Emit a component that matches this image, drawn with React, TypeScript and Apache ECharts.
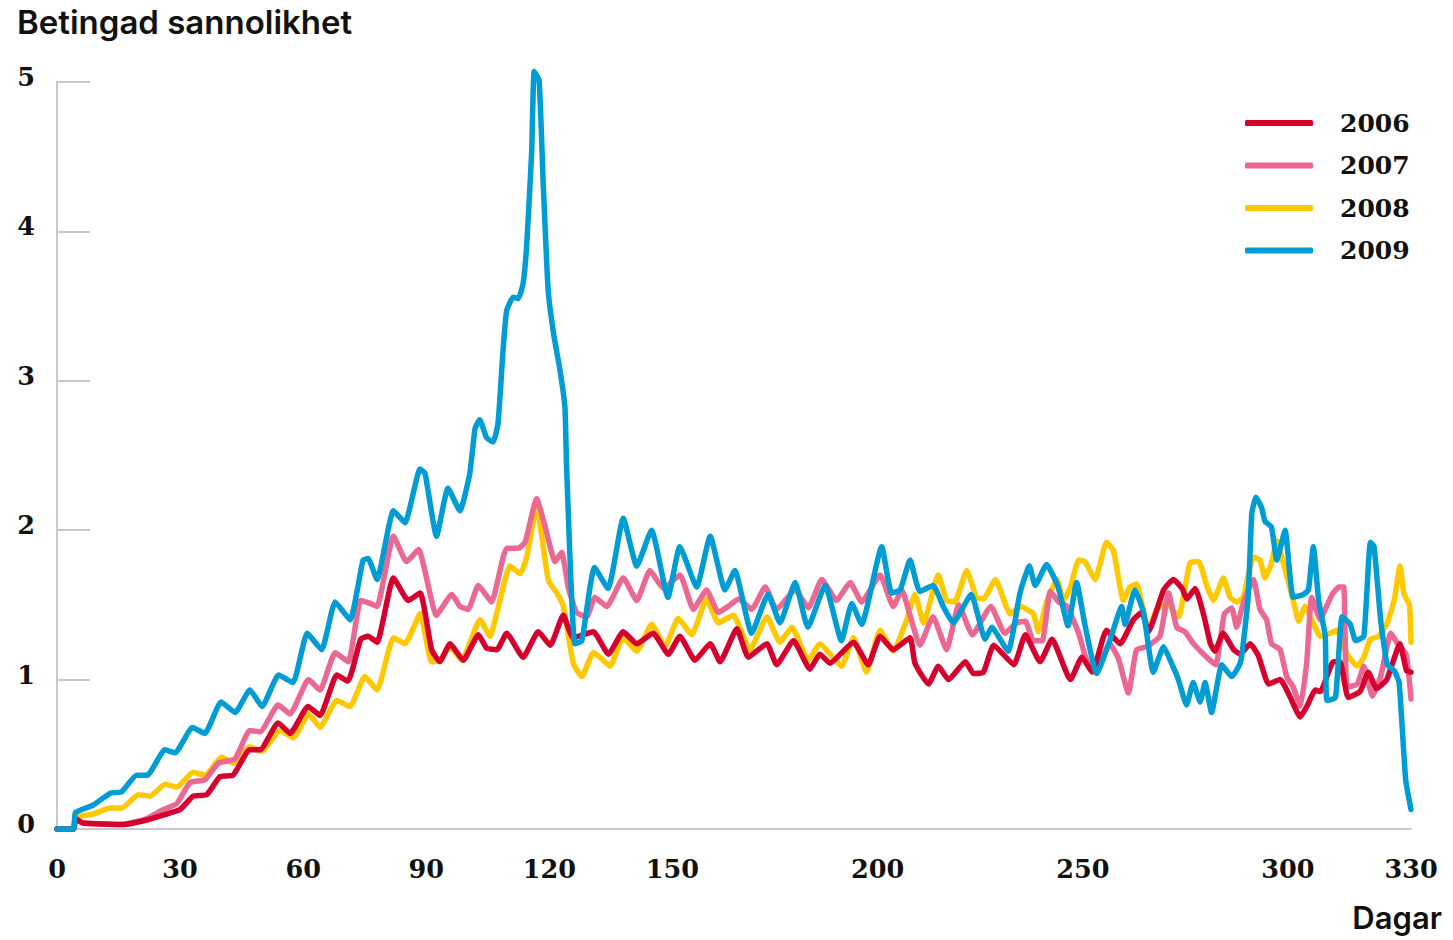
import React, { useEffect, useRef } from "react";
import * as echarts from "echarts";

const seriesNames = ["2006", "2007", "2008", "2009"];
const seriesColors = ["#d6002f", "#ea6892", "#ffc800", "#009cd4"];
const xTickValues = [0, 30, 60, 90, 120, 150, 200, 250, 300, 330];

const data2006: number[][] = [[0,0],[4,0],[4.5,0.07],[6.3,0.04],[16,0.03],[21.9,0.06],[26.7,0.1],[30,0.13],[33.2,0.22],[36.5,0.23],[39.7,0.35],[42.9,0.36],[47,0.53],[49.5,0.53],[53.9,0.71],[56.8,0.64],[61.2,0.82],[64.1,0.76],[68.2,1.03],[70.9,0.99],[74,1.27],[75.8,1.29],[78,1.25],[82,1.68],[85.6,1.53],[88.5,1.58],[91.3,1.2],[93.3,1.12],[95.8,1.24],[99,1.13],[102.7,1.3],[104.7,1.21],[107.2,1.2],[109.6,1.31],[113.6,1.15],[117.3,1.32],[120.2,1.23],[123.4,1.43],[125.8,1.28],[130.7,1.32],[134.4,1.17],[138,1.32],[141.3,1.24],[145.3,1.31],[149,1.17],[151.8,1.29],[155.5,1.13],[159.2,1.24],[161.6,1.12],[165.7,1.34],[168.5,1.15],[173,1.24],[175.4,1.1],[179.5,1.26],[183.5,1.07],[185.9,1.17],[188.4,1.11],[194.1,1.25],[197.7,1.1],[200.6,1.29],[203.8,1.2],[207.9,1.28],[209.1,1.11],[212.4,0.97],[214.8,1.09],[217.3,1.0],[221.4,1.12],[223.4,1.04],[225.8,1.05],[228.3,1.23],[233.2,1.1],[236,1.3],[239.6,1.12],[242.5,1.27],[247,1.0],[249.8,1.15],[252.3,1.05],[255.8,1.33],[259.1,1.24],[262.3,1.4],[264.4,1.45],[266,1.32],[269.7,1.6],[272.1,1.67],[274.2,1.61],[275.4,1.54],[277.4,1.61],[279.5,1.43],[281.1,1.24],[282.2,1.19],[284.2,1.31],[286.8,1.2],[288.4,1.17],[290.8,1.24],[292.8,1.16],[295.3,0.97],[298.1,1.0],[300.6,0.88],[303,0.75],[304.6,0.82],[306.7,0.93],[307.9,0.92],[311.1,1.12],[312.7,1.12],[314.7,0.88],[317.6,0.92],[319.6,1.05],[321.6,0.94],[324.1,1.0],[327.3,1.24],[328.9,1.06],[330,1.05]];

const data2007: number[][] = [[0,0],[4,0],[4.5,0.06],[6.3,0.04],[16,0.03],[21.9,0.07],[25.9,0.13],[29.2,0.17],[32.4,0.31],[36.1,0.33],[39.3,0.44],[43.4,0.47],[47,0.66],[49.5,0.65],[53.9,0.83],[56.8,0.77],[61.3,1.0],[64.1,0.93],[67.8,1.18],[71,1.12],[74,1.53],[76.3,1.51],[78,1.49],[82,1.96],[85.2,1.79],[88.1,1.87],[92.5,1.43],[96.2,1.57],[98.2,1.49],[100.2,1.47],[102.7,1.63],[105.9,1.52],[109.6,1.88],[112.4,1.88],[114.1,1.92],[116.9,2.21],[119,2.02],[121.4,1.79],[123,1.85],[124.6,1.62],[126.6,1.45],[129.1,1.42],[131.1,1.55],[134,1.49],[138,1.68],[141.3,1.53],[144.5,1.73],[147.8,1.61],[151.8,1.7],[155.1,1.47],[158.3,1.6],[161.2,1.45],[163.6,1.49],[166.1,1.54],[169.3,1.47],[172.6,1.62],[175.4,1.47],[179.9,1.6],[183.1,1.48],[186.4,1.67],[190,1.53],[193.3,1.65],[196.1,1.52],[200.6,1.7],[203.8,1.49],[205.9,1.6],[207.9,1.43],[210.3,1.23],[213.5,1.42],[216.8,1.2],[219.8,1.5],[223.1,1.3],[227.6,1.49],[231,1.31],[233.9,1.38],[236,1.39],[238,1.26],[240.1,1.26],[242.1,1.59],[244.1,1.52],[246.2,1.49],[249,1.31],[251.1,1.12],[253.4,1.09],[256.6,1.24],[258.7,1.14],[261.1,0.91],[263.1,1.2],[265.6,1.22],[268.8,1.29],[270.9,1.58],[272.9,1.35],[274.9,1.32],[277,1.24],[280.2,1.15],[282.4,1.1],[284.5,1.44],[286.3,1.48],[287.5,1.35],[289.1,1.51],[291.6,1.67],[293.2,1.47],[294.8,1.4],[296,1.24],[298.1,1.2],[299.7,1.02],[301.3,0.95],[303,0.82],[304.6,1.12],[305.8,1.55],[307.9,1.4],[309.1,1.47],[310.8,1.57],[312.4,1.62],[313.6,1.62],[314.4,0.95],[316.9,0.97],[318.5,1.09],[320.6,0.89],[322.6,1.02],[325.1,1.31],[326.7,1.24],[328.8,1.17],[330,0.87]];

const data2008: number[][] = [[0,0],[4,0],[4.5,0.08],[8.8,0.1],[12.9,0.14],[15.8,0.14],[19.8,0.23],[22.7,0.22],[26.3,0.3],[29.2,0.28],[33.2,0.38],[36.1,0.36],[40.1,0.48],[43,0.44],[47,0.55],[49.9,0.52],[54.4,0.66],[57.6,0.61],[61.3,0.77],[64.1,0.68],[68.2,0.86],[71.4,0.82],[75,1.02],[78,0.93],[82,1.28],[84.8,1.24],[88.5,1.44],[91.3,1.12],[93.3,1.13],[95.8,1.22],[98.6,1.13],[103.1,1.4],[105.5,1.29],[107.6,1.49],[110.4,1.76],[112.9,1.71],[114.5,1.82],[116.9,2.16],[118.5,1.89],[119.8,1.66],[121.8,1.58],[123.4,1.49],[125.8,1.11],[127.9,1.02],[130.7,1.18],[132.3,1.15],[134.8,1.09],[138,1.28],[141.3,1.19],[144.9,1.37],[148.2,1.22],[151.4,1.41],[154.7,1.3],[158.3,1.54],[161.2,1.38],[164.8,1.43],[168.9,1.2],[173,1.42],[176.2,1.25],[179.1,1.35],[183.1,1.13],[185.9,1.24],[191.2,1.09],[194.1,1.28],[197.3,1.05],[200.6,1.33],[203.8,1.19],[207.1,1.4],[209.1,1.57],[211.2,1.38],[214.8,1.7],[216.8,1.53],[218.8,1.52],[221.7,1.73],[224.1,1.55],[225.8,1.54],[228.7,1.67],[232.3,1.44],[235.1,1.49],[236.3,1.47],[238,1.44],[239.2,1.32],[241.2,1.52],[243.7,1.67],[245.3,1.53],[247,1.62],[249,1.8],[250.5,1.79],[253,1.67],[255.8,1.92],[257.5,1.86],[259.9,1.53],[261.5,1.62],[263.1,1.64],[266,1.33],[268,1.47],[270.4,1.51],[273.3,1.42],[276.1,1.78],[278.2,1.79],[280.2,1.63],[281.8,1.53],[284.3,1.68],[285.9,1.55],[287.5,1.52],[289.1,1.55],[291.6,1.82],[293.2,1.8],[294.4,1.68],[296,1.78],[297.3,1.93],[298.9,1.78],[301.3,1.53],[302.6,1.39],[304.2,1.49],[305.8,1.4],[307.9,1.29],[310.3,1.31],[311.9,1.33],[314.4,1.17],[316.9,1.09],[318.5,1.15],[320.1,1.27],[322.2,1.29],[324.2,1.38],[325.9,1.53],[327.3,1.76],[328.3,1.57],[329.6,1.5],[330,1.25]];

const data2009: number[][] = [[0,0],[4,0],[4.5,0.11],[8.8,0.16],[13,0.24],[15.8,0.25],[19.4,0.36],[22,0.36],[26.3,0.53],[28.8,0.51],[33,0.68],[36,0.64],[40,0.85],[43.4,0.78],[47,0.93],[50,0.82],[54,1.03],[57.5,0.98],[61,1.31],[64.5,1.2],[67.8,1.52],[71.4,1.4],[74.6,1.8],[75.8,1.81],[78,1.67],[82,2.13],[84.8,2.05],[88.5,2.41],[89.7,2.38],[92.5,1.96],[95.3,2.28],[98.2,2.13],[100.6,2.38],[101.9,2.68],[103,2.74],[104.7,2.62],[106.3,2.59],[107.5,2.72],[108.7,3.2],[109.6,3.47],[111.2,3.56],[112.4,3.55],[113.6,3.65],[114.5,3.92],[115.7,4.54],[116.3,5.07],[117.5,5.01],[118.5,4.32],[119.7,3.61],[121,3.32],[122.6,3.07],[123.8,2.82],[124.2,2.42],[126.2,1.24],[127.9,1.26],[131,1.75],[134.3,1.61],[138,2.08],[141.3,1.76],[144.9,2.0],[148.9,1.55],[151.8,1.89],[155.9,1.62],[159.2,1.96],[162.8,1.6],[165.2,1.73],[169.3,1.31],[173.3,1.57],[176.2,1.38],[179.9,1.65],[183,1.35],[187.2,1.63],[191.2,1.26],[193.7,1.51],[196.1,1.37],[201,1.89],[203.4,1.58],[205.5,1.6],[207.9,1.8],[210.3,1.59],[213.5,1.63],[216,1.49],[218.4,1.38],[222.8,1.57],[226.2,1.27],[227.8,1.35],[231.8,1.19],[234.7,1.58],[237,1.76],[238.4,1.63],[241.2,1.77],[244,1.62],[246.4,1.36],[248.5,1.65],[250.5,1.37],[253.4,1.04],[256.6,1.26],[259.5,1.49],[260.3,1.37],[262.7,1.6],[264.8,1.45],[267.2,1.05],[269.7,1.22],[271.3,1.13],[273.3,1.0],[275.3,0.83],[276.9,0.98],[278.6,0.85],[279.8,0.98],[281.4,0.78],[283.9,1.1],[286.3,1.02],[288.5,1.12],[290.3,1.55],[291.2,2.11],[292.2,2.22],[293.6,2.15],[294.4,2.06],[296,2.02],[297.3,1.8],[299.3,2.0],[301.3,1.55],[303.8,1.57],[305,1.6],[306.2,1.89],[307.5,1.53],[309.1,1.29],[309.5,0.86],[311.6,0.88],[313.2,1.42],[315.2,1.37],[316.5,1.26],[318.5,1.29],[320.1,1.92],[321,1.89],[322.6,1.4],[324.2,1.1],[325.9,1.06],[327.1,0.98],[328.7,0.33],[330,0.13]];

const seriesData = [data2006, data2007, data2008, data2009];
const drawOrder = [2, 1, 0, 3];

export default function App() {
  const ref = useRef<HTMLDivElement>(null);
  useEffect(() => {
    if (!ref.current) return;
    const chart = echarts.init(ref.current, null, { renderer: "svg" });
    const serifFont = "'DejaVu Serif', serif";
    const sansFont = "Inter, 'DejaVu Sans', sans-serif";
    const series = drawOrder.map((i, k) => ({
      name: seriesNames[i],
      type: "line",
      data: seriesData[i],
      showSymbol: false,
      smooth: 0.15,
      clip: false,
      color: seriesColors[i],
      lineStyle: { width: 5.5, color: seriesColors[i], cap: "round", join: "round" },
      z: 2 + k,
    }));
    chart.setOption({
      animation: false,
      backgroundColor: "#ffffff",
      title: [
        {
          text: "Betingad sannolikhet",
          left: 17,
          top: 5,
          padding: 0,
          textStyle: { fontFamily: sansFont, fontSize: 33, fontWeight: 600, color: "#111" },
        },
        {
          text: "Dagar",
          right: 11,
          top: 902,
          padding: 0,
          textStyle: { fontFamily: sansFont, fontSize: 31, fontWeight: 600, color: "#111" },
        },
      ],
      legend: {
        data: seriesNames,
        orient: "vertical",
        left: 1245,
        top: 108,
        padding: 0,
        icon: "roundRect",
        itemWidth: 68,
        itemHeight: 6,
        itemGap: 12.5,
        textStyle: {
          fontFamily: serifFont,
          fontSize: 25,
          fontWeight: "bold",
          color: "#111",
          lineHeight: 30,
          padding: [0, 0, 0, 22],
        },
      },
      grid: { left: 57, right: 42, top: 82, bottom: 111, containLabel: false },
      xAxis: {
        type: "value",
        min: 0,
        max: 330,
        axisLine: { show: true, lineStyle: { color: "#c8c8c8", width: 2 } },
        axisTick: { show: false },
        splitLine: { show: false },
        axisLabel: {
          customValues: xTickValues,
          fontFamily: serifFont,
          fontSize: 25.5,
          fontWeight: "bold",
          color: "#111",
          margin: 27,
        },
      },
      yAxis: {
        type: "value",
        min: 0,
        max: 5,
        interval: 1,
        axisLine: { show: true, lineStyle: { color: "#c8c8c8", width: 2 } },
        axisTick: { show: true, inside: true, length: 33, lineStyle: { color: "#c8c8c8", width: 2 } },
        splitLine: { show: false },
        axisLabel: {
          fontFamily: serifFont,
          fontSize: 25.5,
          fontWeight: "bold",
          color: "#111",
          margin: 22,
          verticalAlign: "bottom",
          lineHeight: 10,
        },
      },
      series,
    });
    return () => chart.dispose();
  }, []);
  return (
    <div
      ref={ref}
      style={{ position: "absolute", left: 0, top: 0, width: 1453, height: 940 }}
    />
  );
}
